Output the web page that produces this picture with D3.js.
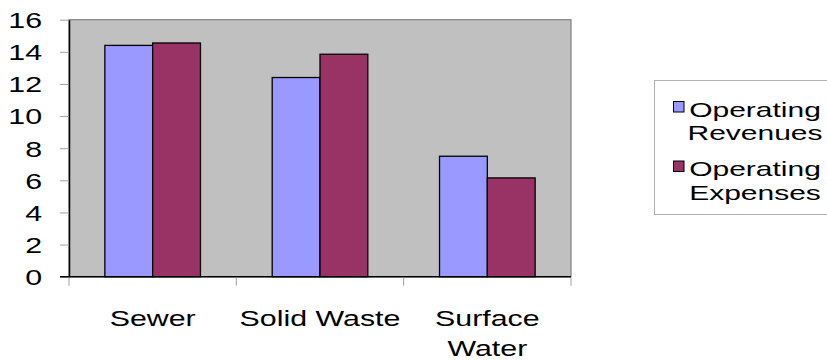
<!DOCTYPE html>
<html>
<head>
<meta charset="utf-8">
<script src="https://cdn.jsdelivr.net/npm/d3@7"></script>
<style>
  html, body { margin: 0; padding: 0; background: #fff; }
  svg { display: block; }
  text { font-family: "Liberation Sans", Arial, sans-serif; fill: #000; }
</style>
</head>
<body>
<svg id="chart" width="827" height="360"></svg>
<script>
// Utility fund operations, in millions
const categories = ["Sewer", "Solid Waste", "Surface Water"];
const categoryLines = [["Sewer"], ["Solid Waste"], ["Surface", "Water"]];
const seriesNames = ["Operating Revenues", "Operating Expenses"];
const legendLines = [["Operating", "Revenues"], ["Operating", "Expenses"]];
const revenues = [14.4, 12.4, 7.5];
const expenses = [14.55, 13.85, 6.15];
const yTicks = [0, 2, 4, 6, 8, 10, 12, 14, 16];
const seriesColors = ["#9999FF", "#993366"];

const svg = d3.select("#chart");
const plot = { left: 69, right: 571, top: 19.7, bottom: 276.7 };
const stretch = 1.38;      // wide lettering
const fontSize = 22;
const legendFont = 20;
const legendStretch = 1.5;

const x = d3.scaleBand().domain(categories).range([plot.left, plot.right]).paddingInner(0).paddingOuter(0);
const xInner = d3.scaleBand().domain(seriesNames).range([0, x.bandwidth()]).paddingInner(0).paddingOuter(0.75);
const y = d3.scaleLinear().domain([0, 16]).range([plot.bottom, plot.top]);

// plot area
svg.append("rect")
  .attr("x", plot.left).attr("y", plot.top)
  .attr("width", plot.right - plot.left).attr("height", plot.bottom - plot.top)
  .attr("fill", "#C0C0C0").attr("stroke", "#808080").attr("stroke-width", 1.2);

// y axis
const yAxis = svg.append("g")
  .attr("transform", `translate(${plot.left},0)`)
  .call(d3.axisLeft(y).tickValues(yTicks).tickSize(9).tickSizeOuter(0).tickFormat(d3.format("d")));
yAxis.select(".domain").attr("stroke", "#000").attr("stroke-width", 1.5);
yAxis.selectAll(".tick line").attr("stroke", "#A0A0A0");
yAxis.selectAll(".tick text")
  .attr("x", -27 / stretch).attr("dy", "0.36em")
  .attr("transform", `scale(${stretch},1)`)
  .style("font-size", fontSize + "px")
  .style("font-family", "'Liberation Sans', Arial, sans-serif")
  .attr("fill", "#000");

// bars
const rows = categories.map((c, i) => ({ cat: c, vals: [revenues[i], expenses[i]] }));
const groups = svg.append("g").selectAll("g").data(rows).join("g")
  .attr("transform", d => `translate(${x(d.cat)},0)`);
groups.selectAll("rect")
  .data(d => d.vals.map((v, k) => ({ name: seriesNames[k], v, k })))
  .join("rect")
  .attr("x", d => xInner(d.name))
  .attr("y", d => y(d.v))
  .attr("width", xInner.bandwidth())
  .attr("height", d => y(0) - y(d.v))
  .attr("fill", d => seriesColors[d.k])
  .attr("stroke", "#000").attr("stroke-width", 1.3);

// x axis line and category boundary ticks
svg.append("line")
  .attr("x1", plot.left - 9).attr("x2", plot.right)
  .attr("y1", y(0)).attr("y2", y(0))
  .attr("stroke", "#000").attr("stroke-width", 1.6);
const bounds = categories.map(c => x(c)).concat([x.range()[1]]);
svg.append("g").selectAll("line").data(bounds).join("line")
  .attr("x1", d => d).attr("x2", d => d)
  .attr("y1", y(0) + 1).attr("y2", y(0) + 9)
  .attr("stroke", "#A0A0A0");

// category labels
categories.forEach((c, i) => {
  categoryLines[i].forEach((line, j) => {
    svg.append("text")
      .attr("transform", `translate(${x(c) + x.bandwidth() / 2},${326 + j * 30}) scale(${stretch},1)`)
      .attr("text-anchor", "middle")
      .style("font-size", fontSize + "px")
      .text(line);
  });
});

// legend
const legend = svg.append("g");
legend.append("rect")
  .attr("x", 654.5).attr("y", 80.5).attr("width", 180).attr("height", 134)
  .attr("fill", "#fff").attr("stroke", "#B0B0B0").attr("stroke-width", 1);
const legendTop = [116.5, 176];
seriesNames.forEach((s, k) => {
  legend.append("rect")
    .attr("x", 673.5).attr("y", legendTop[k] - 15).attr("width", 10.5).attr("height", 10.5)
    .attr("fill", seriesColors[k]).attr("stroke", "#000").attr("stroke-width", 1);
  legendLines[k].forEach((line, j) => {
    legend.append("text")
      .attr("transform", `translate(755,${legendTop[k] + j * 23.5}) scale(${legendStretch},1)`)
      .attr("text-anchor", "middle")
      .style("font-size", legendFont + "px")
      .text(line);
  });
});
</script>
</body>
</html>
